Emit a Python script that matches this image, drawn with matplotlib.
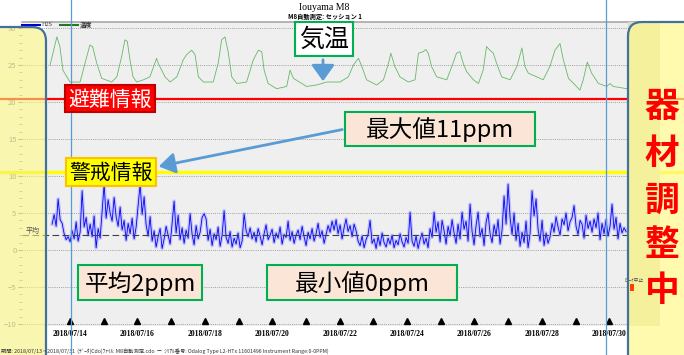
import numpy as np
import matplotlib
matplotlib.use('Agg')
import matplotlib.pyplot as plt
from matplotlib.patches import Rectangle, FancyBboxPatch, FancyArrowPatch
from matplotlib.transforms import blended_transform_factory

plt.rcParams['font.family'] = ['Noto Sans CJK JP', 'DejaVu Sans']

# H2S (ppm), logger samples at a fixed interval from 07/13 late morning to 07/30 noon
h2s_start, h2s_end = 13.47, 30.50
h2s = [3.5, 4.8, 3.2, 6.9, 4.1, 3.6, 2.2, 1.4, 1.8, 1.1,
       2.6, 1.5, 3.8, 1.2, 2.4, 8.0, 3.1, 4.4, 2.0, 3.5,
       1.8, 4.6, 0.3, 2.9, 1.6, 5.2, 8.9, 4.3, 6.8, 5.0,
       3.9, 7.1, 4.5, 3.2, 5.8, 2.7, 4.0, 1.3, 3.6, 2.2,
       4.3, 1.5, 3.1, 6.0, 8.9, 4.8, 7.2, 3.4, 1.9, 4.5,
       1.2, 2.6, 0.4, 1.8, 2.9, 0.2, 1.5, 3.2, 2.0, 0.8,
       3.6, 6.6, 2.3, 4.7, 1.4, 3.0, 0.9, 2.7, 1.6, 4.9,
       2.1, 0.7, 3.3, 1.5, 2.4, 4.4, 4.9, 4.2, 1.3, 2.8,
       0.6, 2.2, 1.4, 3.1, 0.5, 2.0, 5.3, 1.7, 0.9, 2.5,
       0.4, 1.6, 0.8, 2.3, 0.3, 1.2, 4.9, 2.6, 1.8, 3.0,
       1.5, 2.4, 1.1, 2.9, 1.9, 0.7, 2.2, 3.4, 1.4, 2.0,
       2.8, 1.0, 2.3, 1.6, 3.1, 0.8, 2.1, 1.7, 3.9, 1.3,
       2.5, 0.9, 2.0, 2.7, 1.4, 3.2, 1.8, 0.6, 2.4, 1.5,
       2.9, 1.2, 2.2, 3.6, 1.7, 2.6, 0.9, 2.1, 3.3, 2.4,
       3.9, 2.7, 4.1, 2.2, 3.4, 1.5, 3.0, 4.2, 2.5, 3.3,
       1.8, 3.5, 2.6, 1.2, 0.6, 1.9, 0.3, 1.4, 2.1, 4.0,
       0.9, 1.5, 0.2, 1.8, 0.6, 2.3, 1.0, 0.4, 1.6, 0.8,
       2.0, 0.3, 1.3, 0.7, 2.2, 1.1, 0.4, 1.7, 0.9, 5.1,
       1.2, 0.5, 1.9, 0.2, 1.4, 2.3, 0.8, 1.6, 0.3, 2.9,
       1.7, 5.1, 2.4, 3.8, 1.1, 4.0, 2.6, 0.8, 3.2, 1.9,
       4.1, 2.3, 0.9, 3.5, 1.5, 5.1, 2.8, 3.9, 1.2, 6.2,
       2.5, 0.7, 3.3, 5.1, 1.8, 2.9, 0.6, 3.7, 5.0, 2.2,
       1.0, 3.4, 2.0, 4.1, 0.8, 2.7, 7.3, 3.5, 8.9, 4.4,
       2.1, 5.0, 1.3, 3.6, 0.5, 2.4, 1.0, 3.9, 0.3, 2.2,
       8.0, 4.6, 6.9, 2.8, 1.2, 4.0, 0.6, 2.3, 0.9, 1.8,
       3.6, 2.4, 4.5, 3.1, 2.0, 4.2, 3.4, 5.0, 2.6, 3.8,
       4.4, 6.0, 3.2, 2.1, 4.0, 3.5, 1.6, 4.7, 2.9, 3.9,
       2.4, 4.2, 3.0, 5.0, 1.4, 3.6, 2.2, 4.1, 1.9, 3.2,
       6.2, 2.8, 4.4, 1.5, 3.6, 2.3, 3.0, 2.5]

# temperature (deg C), read at turning points
temp_day = [13.41, 13.61, 13.70, 13.79, 14.00, 14.30, 14.45, 14.59, 14.67, 14.79,
            14.94, 15.24, 15.39, 15.53, 15.63, 15.70, 15.78, 15.87, 15.98, 16.18,
            16.37, 16.57, 16.62, 16.72, 16.82, 16.97, 17.17, 17.36, 17.46, 17.61,
            17.71, 17.81, 17.96, 18.25, 18.40, 18.50, 18.60, 18.70, 18.80, 18.95,
            19.24, 19.44, 19.59, 19.69, 19.76, 19.88, 20.13, 20.43, 20.53, 20.63,
            21.02, 21.32, 21.62, 22.01, 22.26, 22.41, 22.56, 22.66, 22.80, 23.10,
            23.30, 23.45, 23.52, 23.64, 23.79, 24.04, 24.24, 24.34, 24.48, 24.56,
            24.63, 24.73, 24.88, 25.18, 25.33, 25.47, 25.57, 25.67, 25.77, 25.97,
            26.12, 26.26, 26.36, 26.46, 26.56, 26.66, 26.81, 27.06, 27.26, 27.41,
            27.50, 27.60, 27.85, 28.04, 28.24, 28.39, 28.54, 28.64, 28.79, 28.99,
            29.13, 29.23, 29.35, 29.48, 29.68, 29.93, 30.02, 30.12, 30.52]
temp_val = [25.0, 28.8, 27.5, 24.3, 22.7, 22.7, 25.3, 27.7, 27.5, 25.3,
            23.2, 22.7, 23.4, 26.1, 28.4, 28.2, 25.7, 23.4, 22.7, 23.0,
            23.4, 25.9, 25.2, 24.3, 23.4, 22.7, 23.4, 25.7, 26.4, 27.0,
            26.4, 23.4, 22.7, 22.7, 25.3, 28.4, 28.8, 26.6, 23.4, 22.5,
            22.7, 25.7, 27.0, 26.8, 24.3, 22.5, 21.8, 22.1, 24.3, 23.2,
            22.1, 22.3, 22.7, 22.7, 23.4, 25.0, 25.9, 24.8, 23.0, 22.3,
            23.0, 25.2, 26.6, 24.8, 23.4, 22.7, 23.0, 26.6, 26.8, 27.1,
            26.6, 24.8, 23.4, 23.0, 24.8, 26.6, 26.8, 25.2, 24.1, 23.0,
            22.5, 24.3, 27.5, 27.0, 26.6, 25.2, 23.4, 23.0, 24.8, 27.3,
            24.8, 23.9, 23.4, 23.0, 24.8, 27.0, 27.9, 25.7, 23.2, 22.3,
            21.6, 23.0, 25.4, 23.9, 22.5, 22.1, 22.5, 22.1, 21.8]

avg_level = 2.0
evac_level = 20.4
warn_level = 10.5
y_ticks = [30, 25, 20, 15, 10, 5, 0, -5, -10]
day_ticks = list(range(14, 31))
label_days = list(range(14, 31, 2))
date_labels = ['2018/07/%02d' % d for d in label_days]

W, H = 684, 355
fig = plt.figure(figsize=(W / 100, H / 100), dpi=100)

# main chart: pixel box x 22..660, y 22..326; 07/14 at x=70, 33.7 px/day; 30 at y=28, 7.4 px/unit
L, R, T, B = 22, 660, 22, 326
ax = fig.add_axes([L / W, (H - B) / H, (R - L) / W, (B - T) / H])
ax.set_xlim(14 + (L - 70) / 33.7, 14 + (R - 70) / 33.7)
ax.set_ylim(30 - (B - 28) / 7.4, 30 + (28 - T) / 7.4)
ax.set_facecolor('white')
ax.add_patch(Rectangle(((46 - L) / (R - L), 0), 1, 1, transform=ax.transAxes,
                       fc='#efefef', ec='none', zorder=0))
for s in ['left', 'right', 'bottom']:
    ax.spines[s].set_visible(False)
ax.spines['top'].set_color('#a8a8a8')
ax.spines['top'].set_linewidth(1.2)

ax.set_yticks(y_ticks)
ax.set_yticks(np.arange(-10, 31, 1), minor=True)
ax.tick_params(axis='y', which='major', length=3, pad=1, labelsize=5.5,
               labelcolor='#7070a8', color='#909090')
ax.tick_params(axis='y', which='minor', length=2, color='#a0a0a0')
ax.yaxis.grid(True, which='major', linestyle=(0, (1, 1.2)), color='#a0a0a0', lw=0.7)
ax.set_axisbelow(True)

ax.set_xticks(label_days)
ax.set_xticklabels(date_labels, fontsize=5.5, fontweight='bold', family='Liberation Serif')
ax.tick_params(axis='x', length=0, pad=3)

ax.plot(day_ticks, [-9.55] * len(day_ticks), ls='none', marker='^', ms=5, color='black',
        clip_on=False, zorder=4)

t = np.linspace(h2s_start, h2s_end, len(h2s))
ax.plot(t, h2s, color='#8a8aff', lw=2.6, alpha=0.4, zorder=2)
ax.plot(t, h2s, color='#0000ff', lw=0.6, zorder=3)
ax.plot(temp_day, temp_val, color='#66b866', lw=0.6, zorder=3)
ax.axhline(avg_level, xmin=0, xmax=(628 - L) / (R - L), color='#404040', lw=0.8,
           dashes=(6, 3), zorder=3)

# red / yellow alert lines run across the whole picture
tr = blended_transform_factory(fig.transFigure, ax.transData)
ax.plot([0, 1], [evac_level] * 2, color='#ff0000', lw=1.6, transform=tr, clip_on=False, zorder=5)
ax.plot([0, 1], [warn_level] * 2, color='#ffff00', lw=2.4, transform=tr, clip_on=False, zorder=5)

# overlay in pixel coordinates
ov = fig.add_axes([0, 0, 1, 1], zorder=5)
ov.set_xlim(0, W)
ov.set_ylim(H, 0)
ov.axis('off')
ov.patch.set_alpha(0)

# title
ov.text(324, 7, 'Iouyama M8', ha='center', va='center', fontsize=7, family='Liberation Serif')
ov.text(325, 16, 'M8自動測定: セッション 1', ha='center', va='center', fontsize=4.5, weight='bold')

# legend
ov.plot([22, 40], [25, 25], color='#0000cc', lw=1.5)
ov.text(42, 25, 'H2S', fontsize=4.5, va='center', color='#404040', family='Liberation Serif')
ov.plot([60, 78], [25, 25], color='#207a20', lw=1.5)
ov.text(80, 25, '温度', fontsize=4.5, va='center', color='#303030', weight='bold')

ov.text(33, 231, '平均', fontsize=5, ha='center', va='center', color='#505050')
ov.text(644, 280, 'ﾋﾟｰｸ中止', fontsize=3.5, ha='right', va='center', color='#505050')
ov.add_patch(Rectangle((630, 284), 4, 7, fc='#ff4000', ec='none', zorder=3))

# footer
ov.text(1, 351, '期間: 2018/07/13 ~ 2018/07/31  (ﾃﾞｰﾀ(Cdo)ﾌｧｲﾙ: M8自動測定.cdo  ー  '
        'ｼﾘｱﾙ番号: Odalog Type L2-HTx 11601496 Instrument Range:0-0PPM)',
        fontsize=3.8, va='center', color='#303030')

# side panels
ov.add_patch(Rectangle((628, 22), 32, 304, fc='#dcdcc8', ec='none', zorder=1))
ov.add_patch(FancyBboxPatch((-30, 27), 76, 400, boxstyle='round,pad=0,rounding_size=14',
                            fc='#f5f07a', ec='none', alpha=0.6, zorder=2))
ov.add_patch(FancyBboxPatch((-30, 27), 76, 400, boxstyle='round,pad=0,rounding_size=14',
                            fc='none', ec='#41719c', lw=1.6, zorder=2))
ov.add_patch(FancyBboxPatch((628, 22), 100, 400, boxstyle='round,pad=0,rounding_size=14',
                            fc='#fff98a', ec='none', alpha=0.7, zorder=2))
ov.add_patch(FancyBboxPatch((628, 22), 100, 400, boxstyle='round,pad=0,rounding_size=14',
                            fc='none', ec='#41719c', lw=1.6, zorder=2))
for i, ch in enumerate('器材調整中'):
    ov.text(662, [107, 153, 200, 244, 290][i], ch, ha='center', va='center', fontsize=25,
            color='#ff0000', weight='bold', zorder=6)

# vertical marker lines
for xv in [70.5, 606]:
    ov.plot([xv, xv], [0, H], color='#5b9bd5', lw=0.9, zorder=3)


def box(x0, y0, x1, y1, fc, ec, text, color, size):
    ov.add_patch(Rectangle((x0, y0), x1 - x0, y1 - y0, fc=fc, ec=ec, lw=1.5, zorder=4))
    ov.text((x0 + x1) / 2, (y0 + y1) / 2 + 1, text, ha='center', va='center', fontsize=size,
            color=color, zorder=5)


box(295, 22, 353, 56, 'white', '#00b050', '気温', 'black', 18)
box(65, 85, 155, 112, '#ff0000', '#c00000', '避難情報', 'white', 15)
box(66, 158, 156, 186, '#ffff00', '#ffc000', '警戒情報', 'black', 15)
box(345, 112, 535, 146, '#fbe5d6', '#00b050', '最大値11ppm', 'black', 17)
box(78, 265, 202, 300, '#fbe5d6', '#00b050', '平均2ppm', 'black', 17)
box(267, 265, 457, 300, '#fbe5d6', '#00b050', '最小値0ppm', 'black', 17)

ov.add_patch(FancyArrowPatch((345, 129), (156, 167), arrowstyle='-|>,head_length=0.7,head_width=0.45',
                             mutation_scale=14, color='#5b9bd5', lw=2, zorder=6))
ov.add_patch(FancyArrowPatch((323, 57), (323, 84), arrowstyle='-|>,head_length=0.7,head_width=0.5',
                             mutation_scale=14, color='#5b9bd5', lw=2, zorder=6))

fig.savefig('out.png', dpi=100)
